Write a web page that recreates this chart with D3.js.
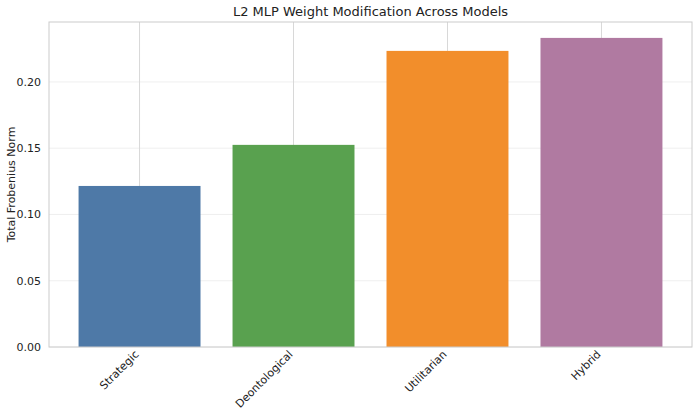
<!DOCTYPE html>
<html><head><meta charset="utf-8">
<script src="https://cdn.jsdelivr.net/npm/d3@7"></script>
<style>body{margin:0;background:#fff;font-family:"DejaVu Sans",sans-serif}</style>
</head><body><svg id="c" width="700" height="416"></svg>
<script>
const categories=["Strategic","Deontological","Utilitarian","Hybrid"];
const values=[0.1215,0.1525,0.2234,0.2332];
const colors=["#4e79a7","#59a14f","#f28e2b","#b07aa1"];
const yTicks=[0,0.05,0.10,0.15,0.20];
const m={l:49,r:8,t:22,b:69},W=700,H=416;
const svg=d3.select("#c");
const x=d3.scaleBand().domain(categories).range([m.l,W-m.r]).paddingInner(0.208).paddingOuter(0.192);
const y=d3.scaleLinear().domain([0,0.2452]).range([H-m.b,m.t]);
const g=svg.append("g");
g.selectAll(".hg").data(yTicks).join("line").attr("x1",m.l).attr("x2",W-m.r)
 .attr("y1",d=>y(d)).attr("y2",d=>y(d)).attr("stroke","#ebebeb").attr("stroke-width",0.8);
g.selectAll(".vg").data(categories).join("line").attr("y1",m.t).attr("y2",H-m.b)
 .attr("x1",d=>x(d)+x.bandwidth()/2).attr("x2",d=>x(d)+x.bandwidth()/2).attr("stroke","#d8d8d8").attr("stroke-width",1);
g.selectAll("rect.bar").data(values).join("rect").attr("class","bar")
 .attr("x",(d,i)=>x(categories[i])).attr("width",x.bandwidth())
 .attr("y",d=>y(d)).attr("height",d=>y(0)-y(d)).attr("fill",(d,i)=>colors[i]);
svg.append("rect").attr("x",m.l).attr("y",m.t).attr("width",W-m.l-m.r).attr("height",H-m.t-m.b)
 .attr("fill","none").attr("stroke","#cccccc").attr("stroke-width",1);
const ya=svg.append("g").attr("transform",`translate(${m.l},0)`)
 .call(d3.axisLeft(y).tickValues(yTicks).tickFormat(d3.format(".2f")).tickSize(0).tickPadding(8));
ya.select(".domain").remove();
ya.selectAll("text").attr("font-size",11).attr("fill","#222").attr("font-family","DejaVu Sans");
const xa=svg.append("g").attr("transform",`translate(0,${H-m.b})`)
 .call(d3.axisBottom(x).tickSize(0).tickPadding(0));
xa.select(".domain").remove();
xa.selectAll("text").attr("font-size",11).attr("fill","#222").attr("font-family","DejaVu Sans")
 .attr("text-anchor","end").attr("dy",0).attr("transform","translate(0,8) rotate(-45)");
svg.append("text").attr("x",(m.l+W-m.r)/2).attr("y",16).attr("text-anchor","middle")
 .attr("font-size",13).attr("fill","#222").text("L2 MLP Weight Modification Across Models");
svg.append("text").attr("transform",`translate(15,${(m.t+H-m.b)/2}) rotate(-90)`).attr("text-anchor","middle")
 .attr("font-size",11).attr("fill","#222").text("Total Frobenius Norm");
</script></body></html>
